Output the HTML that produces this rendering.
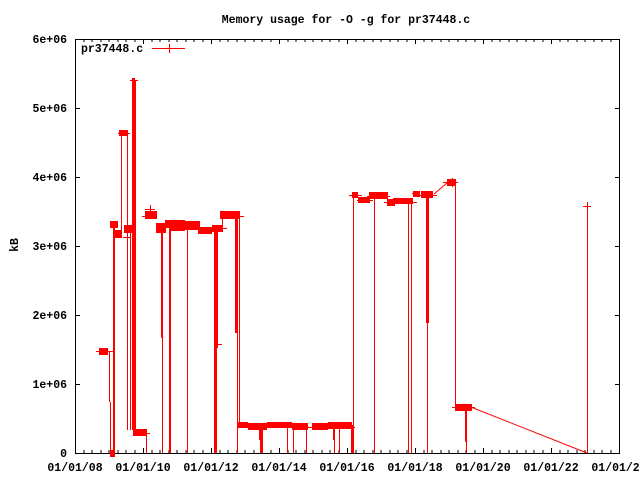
<!DOCTYPE html>
<html><head><meta charset="utf-8"><style>
html,body{margin:0;padding:0;background:#fff;}
svg{display:block;}
text{font-family:"Liberation Mono","DejaVu Sans Mono",monospace;font-weight:bold;font-size:11.5px;fill:#000;}
</style></head><body>
<svg width="640" height="480" viewBox="0 0 640 480" xmlns="http://www.w3.org/2000/svg">
<rect width="640" height="480" fill="#fff"/>
<text x="346" y="23" text-anchor="middle">Memory usage for -O -g for pr37448.c</text>
<text transform="translate(18,245) rotate(-90)" text-anchor="middle">kB</text>
<g text-anchor="end">
<text x="67" y="43">6e+06</text>
<text x="67" y="112">5e+06</text>
<text x="67" y="181">4e+06</text>
<text x="67" y="250">3e+06</text>
<text x="67" y="319">2e+06</text>
<text x="67" y="388">1e+06</text>
<text x="67" y="457">0</text>
</g>
<g text-anchor="middle">
<text x="75" y="471">01/01/08</text>
<text x="143" y="471">01/01/10</text>
<text x="211" y="471">01/01/12</text>
<text x="279" y="471">01/01/14</text>
<text x="347" y="471">01/01/16</text>
<text x="415" y="471">01/01/18</text>
<text x="483" y="471">01/01/20</text>
<text x="551" y="471">01/01/22</text>
<text x="619" y="471">01/01/24</text>
</g>
<g stroke="#000" stroke-width="1" shape-rendering="crispEdges" fill="none">
<rect x="75.5" y="39.5" width="544" height="414"/>
<path d="M75 108.5h5M75 177.5h5M75 246.5h5M75 315.5h5M75 384.5h5M620 108.5h-5M620 177.5h-5M620 246.5h-5M620 315.5h-5M620 384.5h-5"/>
<path id="xt" d="
M143.5 453v-5M211.5 453v-5M279.5 453v-5M347.5 453v-5M415.5 453v-5M483.5 453v-5M551.5 453v-5
M143.5 39v5M211.5 39v5M279.5 39v5M347.5 39v5M415.5 39v5M483.5 39v5M551.5 39v5
M84 453v-3M92 453v-3M101 453v-3M109 453v-3M118 453v-3M126 453v-3M135 453v-3
M152 453v-3M160 453v-3M169 453v-3M177 453v-3M186 453v-3M194 453v-3M203 453v-3
M220 453v-3M228 453v-3M237 453v-3M245 453v-3M254 453v-3M262 453v-3M271 453v-3
M288 453v-3M296 453v-3M305 453v-3M313 453v-3M322 453v-3M330 453v-3M339 453v-3
M356 453v-3M364 453v-3M373 453v-3M381 453v-3M390 453v-3M398 453v-3M407 453v-3
M424 453v-3M432 453v-3M441 453v-3M449 453v-3M458 453v-3M466 453v-3M475 453v-3
M492 453v-3M500 453v-3M509 453v-3M517 453v-3M526 453v-3M534 453v-3M543 453v-3
M560 453v-3M568 453v-3M577 453v-3M585 453v-3M594 453v-3M602 453v-3M611 453v-3
M84 39v3M92 39v3M101 39v3M109 39v3M118 39v3M126 39v3M135 39v3
M152 39v3M160 39v3M169 39v3M177 39v3M186 39v3M194 39v3M203 39v3
M220 39v3M228 39v3M237 39v3M245 39v3M254 39v3M262 39v3M271 39v3
M288 39v3M296 39v3M305 39v3M313 39v3M322 39v3M330 39v3M339 39v3
M356 39v3M364 39v3M373 39v3M381 39v3M390 39v3M398 39v3M407 39v3
M424 39v3M432 39v3M441 39v3M449 39v3M458 39v3M466 39v3M475 39v3
M492 39v3M500 39v3M509 39v3M517 39v3M526 39v3M534 39v3M543 39v3
M560 39v3M568 39v3M577 39v3M585 39v3M594 39v3M602 39v3M611 39v3"/>
</g>
<!-- legend -->
<text x="81" y="52">pr37448.c</text>
<g stroke="#f00" stroke-width="1" shape-rendering="crispEdges">
<path d="M152 48.5h33M169.5 44v9"/>
</g>
<!-- data -->
<g fill="#f00" shape-rendering="crispEdges">
<rect x="99" y="348" width="9" height="7"/>
<rect x="110" y="450" width="5" height="7"/>
<rect x="110" y="221" width="8" height="7"/>
<rect x="115" y="230" width="7" height="8"/>
<rect x="119" y="130" width="9" height="6"/>
<rect x="124" y="225" width="9" height="8"/>
<rect x="133" y="429" width="14" height="7"/>
<rect x="145" y="211" width="12" height="8"/>
<rect x="156" y="223" width="10" height="10"/>
<rect x="165" y="220" width="20" height="8"/>
<rect x="170" y="226" width="15" height="5"/>
<rect x="179" y="221" width="21" height="9"/>
<rect x="198" y="227" width="14" height="7"/>
<rect x="212" y="225" width="11" height="7"/>
<rect x="220" y="211" width="20" height="8"/>
<rect x="238" y="422" width="10" height="6"/>
<rect x="248" y="423" width="19" height="7"/>
<rect x="267" y="422" width="25" height="6"/>
<rect x="292" y="423" width="16" height="7"/>
<rect x="312" y="423" width="16" height="7"/>
<rect x="328" y="422" width="24" height="7"/>
<rect x="352" y="192" width="6" height="6"/>
<rect x="358" y="197" width="12" height="6"/>
<rect x="369" y="192" width="19" height="7"/>
<rect x="387" y="199" width="8" height="7"/>
<rect x="393" y="198" width="20" height="6"/>
<rect x="413" y="191" width="7" height="6"/>
<rect x="421" y="191" width="12" height="7"/>
<rect x="447" y="179" width="9" height="7"/>
<rect x="455" y="404" width="17" height="7"/>
</g>
<g stroke="#f00" stroke-width="1" fill="none" shape-rendering="crispEdges">
<path d="M96 351.5h17M109.5 351v51M110.5 402v51"/>
<path d="M113.5 222v231M114.5 222v231M121.5 130v105M118 133.5h12"/>
<path d="M127.5 133v297M130.5 228v202M123 237.5h8"/>
<path d="M132.5 78v352M133.5 78v352M134.5 78v352M135.5 80v350M130 80.5h8"/>
<path d="M140 433.5h10M146.5 433v20"/>
<path d="M150.5 205v9M145 209.5h10M142 216.5h8"/>
<path d="M161.5 225v113M162.5 225v228M169.5 222v231M170.5 222v231M187.5 225v228"/>
<path d="M156 228.5h8M184 224.5h8"/>
<path d="M214.5 228v225M215.5 228v225M216.5 230v223M217.5 230v117M215 344.5h7M217.5 340v8"/>
<path d="M222.5 215v15M220 228.5h7M236 216.5h8"/>
<path d="M235.5 215v118M236.5 215v118M237.5 215v238M239.5 216v207M237 425.5h12"/>
<path d="M259.5 425v15M260.5 425v28M261.5 425v28M262.5 425v28"/>
<path d="M287.5 425v28M293.5 425v28M306.5 425v28M308 427.5h5M333.5 425v15M334.5 425v28M339.5 425v28"/>
<path d="M351.5 425v28M352.5 425v28M353.5 193v260M349 427.5h6M349 195.5h13"/>
<path d="M357 200.5h16M374.5 195v258M367 196.5h23M384 202.5h33M408.5 202v251M411.5 202v251"/>
<path d="M412 193.5h8M420 195.5h17M426.5 195v128M427.5 195v258M428.5 195v128"/>
<path d="M443 182.5h15M452.5 178v9M455.5 182v225M452 407.5h23M465.5 407v35M466.5 407v46"/>
<path d="M583 206.5h8M587.5 202v251"/>
</g>
<g stroke="#f00" stroke-width="1" fill="none">
<path d="M434 194L447 183"/>
<path d="M472 407.5L587 453"/>
</g>
</svg>
</body></html>
